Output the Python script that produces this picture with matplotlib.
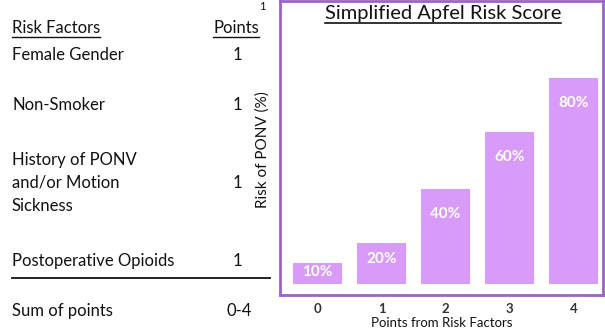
import matplotlib
matplotlib.use('Agg')
from matplotlib import pyplot as plt

plt.rcParams['font.family'] = ['Lato', 'DejaVu Sans']

# left table
factors = ['Female Gender', 'Non-Smoker', 'History of PONV\nand/or Motion\nSickness', 'Postoperative Opioids']
factor_points = ['1', '1', '1', '1']
sum_label = 'Sum of points'
sum_range = '0-4'

# bar chart
score = [0, 1, 2, 3, 4]
bar_height = [8, 16, 37, 59, 80]   # drawn height (picture is not to scale)
risk = [10, 20, 40, 60, 80]        # printed risk in %

W, H = 605, 331
fig = plt.figure(figsize=(W / 100, H / 100), dpi=100)


def fx(x):
    return x / W


def fy(y):
    return 1 - y / H


TXT = '#111111'
PURPLE = '#9a63c8'
BAR = '#d99bfa'

# ---- table on the left ----
hdr_fs = 12
t1 = fig.text(fx(12), fy(28), 'Risk Factors', fontsize=hdr_fs, color=TXT, va='center', ha='left')
t2 = fig.text(fx(259), fy(28), 'Points', fontsize=hdr_fs, color=TXT, va='center', ha='right')

row_y = [55, 105, 183, 261]
for name, p, y in zip(factors, factor_points, row_y):
    fig.text(fx(12), fy(y), name, fontsize=hdr_fs, color=TXT, va='center', ha='left', linespacing=1.55)
    fig.text(fx(237), fy(y), p, fontsize=hdr_fs, color=TXT, va='center', ha='center')

fig.add_artist(plt.Line2D([fx(12), fx(270)], [fy(278), fy(278)], color=TXT, lw=1.3))
fig.text(fx(12), fy(311), sum_label, fontsize=hdr_fs, color=TXT, va='center', ha='left')
fig.text(fx(239), fy(311), sum_range, fontsize=hdr_fs, color=TXT, va='center', ha='center')
fig.text(fx(262), fy(6), '1', fontsize=8, color=TXT, va='center', ha='center')

# ---- bar chart ----
ax = fig.add_axes([fx(280), fy(295), fx(603) - fx(280), fy(1) - fy(295)])
bars = ax.bar(score, bar_height, width=0.77, color=BAR)
ax.set_xlim(-0.586, 4.46)
ax.set_ylim(-4.3, 110)
ax.set_yticks([])
ax.set_xticks(score)
ax.set_xticklabels([str(s) for s in score], fontsize=9.5, fontweight='bold', color='#333333')
ax.tick_params(axis='x', length=0, pad=6)
for sp in ax.spines.values():
    sp.set_color(PURPLE)
    sp.set_linewidth(2)
ax.set_xlabel('Points from Risk Factors', fontsize=9.5, color=TXT, labelpad=1)

for b, h, r in zip(bars, bar_height, risk):
    off = min(25, h * 2.575 * 0.4)
    ax.annotate('%d%%' % r, (b.get_x() + b.get_width() / 2, h), xytext=(0, -off * 0.72),
                textcoords='offset points', ha='center', va='center',
                color='white', fontsize=11, fontweight='bold')

fig.text(fx(263), fy(150), 'Risk of PONV (%)', rotation=90, fontsize=11, color=TXT,
         va='center', ha='center')
tt = fig.text(fx(443), fy(14), 'Simplified Apfel Risk Score', fontsize=14.5, color=TXT,
              va='center', ha='center')

# underlines
fig.canvas.draw()
r = fig.canvas.get_renderer()
for t, lw in [(t1, 1.0), (t2, 1.0), (tt, 1.2)]:
    bb = t.get_window_extent(r)
    yy = bb.y0 / H - 0.003
    fig.add_artist(plt.Line2D([bb.x0 / W, bb.x1 / W], [yy, yy], color=TXT, lw=lw))

fig.savefig('out.png', dpi=100, facecolor='white')
